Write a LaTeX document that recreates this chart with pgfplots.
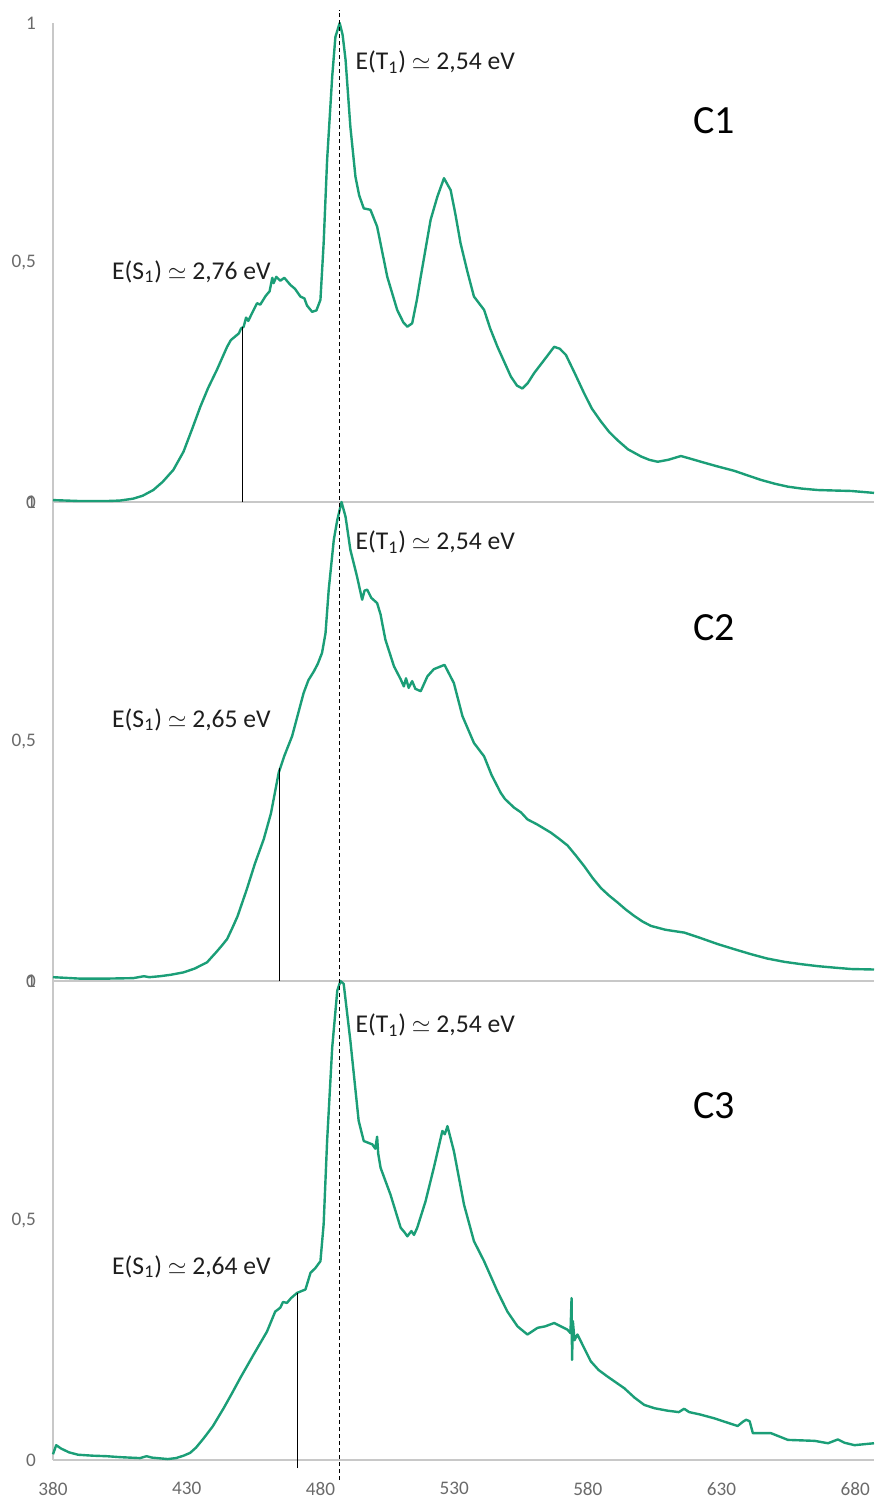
\documentclass[border=0pt]{standalone}
\usepackage{fontspec}
\setmainfont{Carlito}
\usepackage{pgfplots}
\pgfplotsset{compat=1.18}

\definecolor{spec}{HTML}{1B9E77}
\definecolor{axgray}{HTML}{C8C8C8}
\definecolor{tickgray}{HTML}{6A6A6A}
\definecolor{txt}{HTML}{1E1E1E}

\pgfplotstableread{
x y
380 0.004
390 0.002
400 0.002
405 0.003
410 0.007
413.5 0.013
417.5 0.025
421 0.042
425 0.067
428.8 0.105
432 0.152
435.1 0.199
438 0.238
441.3 0.276
445.1 0.324
446.5 0.338
448 0.345
449.5 0.352
450.3 0.362
451.3 0.366
452.2 0.385
453 0.378
454.5 0.395
456.3 0.415
457.5 0.412
459.5 0.430
461 0.440
462 0.468
462.5 0.457
463.5 0.470
465 0.462
466.5 0.468
468.8 0.453
470.5 0.445
472.5 0.429
474 0.425
475 0.410
476.9 0.397
478.5 0.400
480 0.422
481.2 0.540
482.5 0.714
484.4 0.888
485.6 0.971
487.2 1.000
488.3 0.975
489.4 0.923
491.2 0.783
493.1 0.679
494.5 0.640
496.2 0.613
498.7 0.610
501.2 0.575
505.0 0.470
508.7 0.401
511 0.375
512.5 0.366
514.3 0.373
516 0.420
517.5 0.470
521.2 0.589
523.7 0.637
526.2 0.676
528.7 0.651
530.5 0.600
532.4 0.540
535 0.480
537.4 0.429
541.2 0.401
543.5 0.362
546.2 0.324
551.2 0.262
553.5 0.243
555.5 0.237
557.5 0.248
559.9 0.269
563.6 0.296
567.4 0.324
569.5 0.320
571.8 0.307
575 0.270
578.6 0.227
581.5 0.195
584.9 0.168
588 0.146
591.1 0.129
595 0.110
599.9 0.095
603 0.088
606.1 0.084
610 0.088
614.8 0.096
618 0.091
622.3 0.084
628 0.075
634.8 0.065
640 0.055
644.8 0.046
650 0.038
654.8 0.032
660 0.028
666.0 0.025
672 0.024
678.5 0.023
687 0.019
}\specA

\pgfplotstableread{
x y
380 0.008
390 0.005
400 0.005
410 0.006
414 0.010
416 0.008
420 0.010
424 0.013
428.8 0.018
433 0.026
437.6 0.039
441 0.060
443 0.073
445.1 0.0875
447 0.110
449 0.135
452.5 0.192
455.5 0.245
458.8 0.296
461.5 0.350
464.4 0.435
466.5 0.470
469.4 0.511
471.5 0.555
473.7 0.601
475.5 0.628
477.5 0.646
479 0.662
480.6 0.685
481.9 0.726
483.1 0.817
485.0 0.921
486.3 0.9625
487.9 1.000
489.4 0.969
491.2 0.900
493.7 0.844
495.6 0.796
496.5 0.815
497.5 0.817
499 0.800
501.2 0.789
502.5 0.765
503.1 0.747
504.3 0.7125
507.5 0.657
510 0.630
511.2 0.615
512 0.632
513 0.612
514.3 0.626
515.5 0.610
517.5 0.605
520.0 0.636
522.4 0.651
526.4 0.660
529.9 0.622
533.1 0.553
537.4 0.497
541.2 0.469
544 0.430
547.4 0.393
549 0.380
552.4 0.362
555 0.352
557.4 0.3375
561 0.327
566.1 0.310
569 0.298
572.4 0.283
575.5 0.262
578.6 0.240
581.8 0.215
584.9 0.194
588 0.178
591.1 0.164
594 0.150
597.3 0.136
600.5 0.124
603.6 0.115
609 0.107
616.1 0.101
622 0.090
628.6 0.077
635 0.066
641.0 0.056
647 0.047
653.5 0.040
660 0.035
666.0 0.031
672 0.028
678.5 0.025
687 0.024
}\specB

\pgfplotstableread{
x y
380 0.012
381.2 0.031
383 0.024
386 0.016
389.4 0.011
395 0.009
400 0.008
405 0.006
412.5 0.004
415 0.008
417 0.005
422.9 0.002
426 0.004
428.8 0.009
431.3 0.015
433.5 0.026
436.3 0.045
439.7 0.070
443.8 0.108
447 0.140
450.0 0.171
455.0 0.220
460.0 0.268
463.1 0.310
465 0.318
466 0.330
467.5 0.328
469 0.338
471.3 0.349
474.4 0.356
476.3 0.391
478 0.400
480.0 0.415
481.2 0.492
482.5 0.666
484.4 0.861
486.3 0.980
487.5 1.000
488.7 0.994
491.2 0.875
494.3 0.708
496.2 0.666
498 0.662
499.4 0.659
500.5 0.650
501.2 0.675
501.6 0.640
502.5 0.610
506.2 0.554
510.0 0.485
511.5 0.475
512.5 0.467
514 0.478
515 0.470
516.2 0.485
519.3 0.540
522.4 0.610
525.6 0.687
526.5 0.680
527.5 0.697
529.9 0.645
533.7 0.533
537.4 0.457
541.2 0.415
546.2 0.352
549.9 0.310
553.7 0.279
557.4 0.262
561.2 0.276
564 0.279
567.4 0.286
572.4 0.272
573.5 0.265
573.9 0.338
574.1 0.209
574.4 0.290
575 0.250
576.1 0.262
581.1 0.206
584 0.188
587.4 0.174
593.6 0.150
597.5 0.130
601.1 0.115
605 0.108
609.8 0.103
614 0.100
616 0.107
617.9 0.100
622 0.095
627.3 0.087
636.0 0.071
638 0.080
639.2 0.084
640.5 0.081
641.7 0.056
648.5 0.056
654.8 0.042
664.8 0.040
669.8 0.035
673.5 0.043
676 0.036
679.7 0.031
687 0.035
}\specC

\pgfplotsset{
  panel/.style={
    scale only axis, width=410.5pt, height=239.5pt,
    xmin=380, xmax=687, ymin=0, ymax=1,
    axis x line*=bottom, axis y line*=left,
    axis line style={axgray, line width=0.6pt, -},
    xtick={380,430,...,680}, ytick={0,0.5,1},
    major tick length=0pt,
    tick label style={font=\fontsize{9.6}{11}\selectfont, text=tickgray},
    /pgf/number format/use comma,
    /pgf/number format/assume math mode=true,
    yticklabel style={xshift=-5pt},
    xticklabel style={yshift=-7.5pt},
    clip=false,
  },
  spectrum/.style={spec, line width=1.2pt, mark=none, line join=round},
}
\tikzset{
  lbl/.style={anchor=base west, inner sep=0pt, text=txt, font=\fontsize{12.8}{15}\selectfont},
  big/.style={anchor=west, inner sep=0pt, text=black, font=\fontsize{20}{24}\selectfont},
}

\begin{document}
\begin{tikzpicture}
% C1
\begin{axis}[panel, at={(26.5pt,-251pt)}, anchor=south west, xticklabels={}]
\addplot[spectrum] table {\specA};
\draw[black, line width=0.5pt] (axis cs:451,0) -- (axis cs:451,0.366);
\node[lbl] at (axis cs:493,0.903) {E(T\textsubscript{1}) $\simeq$ 2,54 eV};
\node[lbl] at (axis cs:402,0.465) {E(S\textsubscript{1}) $\simeq$ 2,76 eV};
\node[big] at (axis cs:619.4,0.797) {C1};
\end{axis}
% C2
\begin{axis}[panel, at={(26.5pt,-490.5pt)}, anchor=south west, xticklabels={}]
\addplot[spectrum] table {\specB};
\draw[black, line width=0.5pt] (axis cs:464.8,0) -- (axis cs:464.8,0.445);
\node[lbl] at (axis cs:493,0.901) {E(T\textsubscript{1}) $\simeq$ 2,54 eV};
\node[lbl] at (axis cs:402,0.530) {E(S\textsubscript{1}) $\simeq$ 2,65 eV};
\node[big] at (axis cs:619.4,0.737) {C2};
\end{axis}
% C3
\begin{axis}[panel, at={(26.5pt,-730pt)}, anchor=south west]
\addplot[spectrum] table {\specC};
\draw[black, line width=0.5pt] (axis cs:471.3,-0.017) -- (axis cs:471.3,0.349);
\node[lbl] at (axis cs:493,0.892) {E(T\textsubscript{1}) $\simeq$ 2,54 eV};
\node[lbl] at (axis cs:402,0.388) {E(S\textsubscript{1}) $\simeq$ 2,64 eV};
\node[big] at (axis cs:619.4,0.739) {C3};
% common T1 position through all three panels
\draw[black, line width=0.5pt, dash pattern=on 2pt off 1.5pt]
  (axis cs:487,-0.042) -- (axis cs:487,3.027);
\end{axis}
\pgfresetboundingbox
\path[use as bounding box] (0,0) rectangle (437pt,-748.5pt);
\end{tikzpicture}
\end{document}
